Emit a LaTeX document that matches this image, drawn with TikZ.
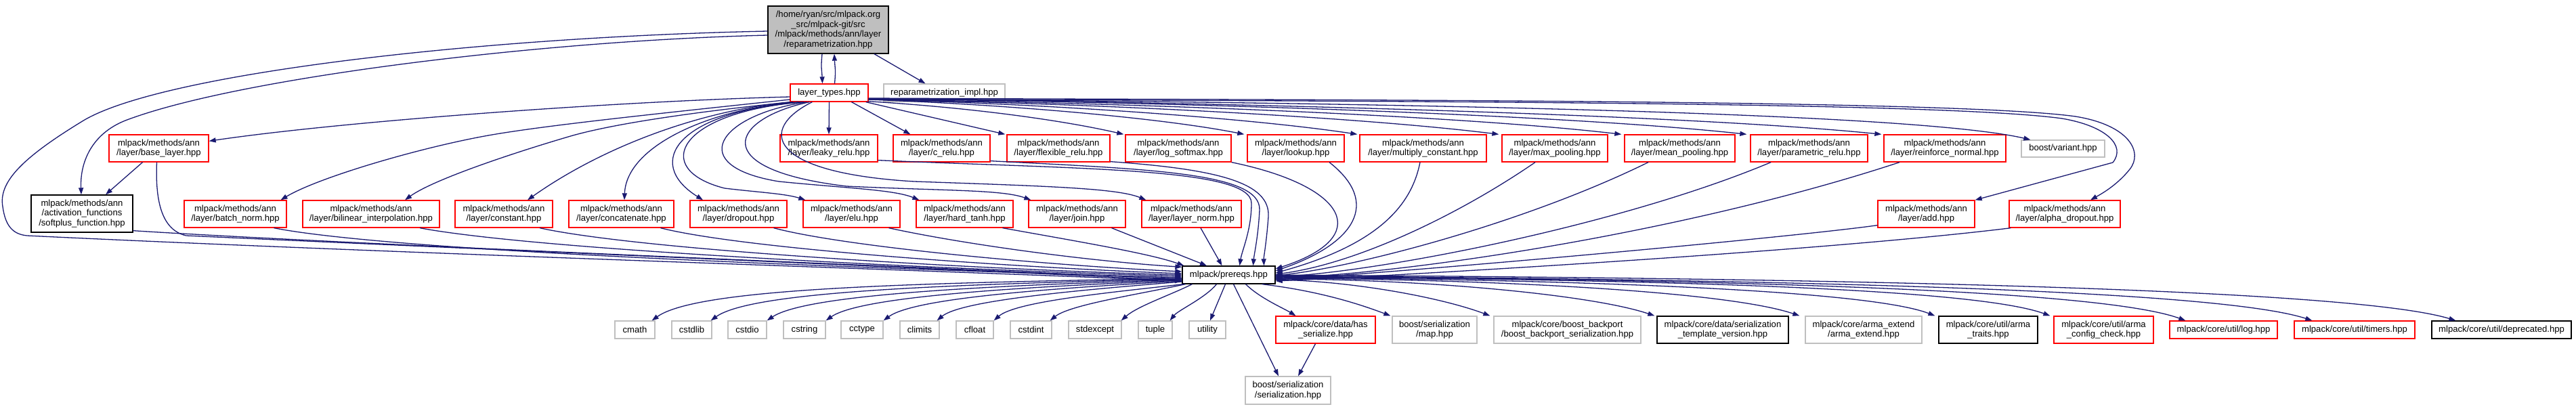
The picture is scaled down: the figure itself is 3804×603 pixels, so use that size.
\documentclass[tikz,border=0pt]{standalone}
\usepackage{fontspec}
\setmainfont{Liberation Sans}
\usetikzlibrary{arrows.meta,calc}
\definecolor{edgec}{HTML}{191970}
\definecolor{grayb}{HTML}{BFBFBF}
\newcommand\nodefont{\fontsize{13.1}{14.6}\selectfont}
\begin{document}
\begin{tikzpicture}[x=1pt,y=-1pt,
  nd/.style={rectangle, draw, fill=white, inner sep=0pt, align=center, line width=1.3pt, font=\nodefont, text=black},
  redbox/.style={nd, draw=red},
  blackbox/.style={nd, draw=black},
  graybox/.style={nd, draw=grayb},
  topbox/.style={nd, draw=black, fill=grayb},
  dep/.style={draw=edgec, line width=1.3pt, -{Triangle[length=10pt,width=7pt]}}]
\useasboundingbox (0,0) rectangle (3804,603);

% ---- nodes
\node[topbox, minimum width=178, minimum height=70] (top) at (1223,44) {/home/ryan/src/mlpack.org\\\_src/mlpack-git/src\\/mlpack/methods/ann/layer\\/reparametrization.hpp};
\node[redbox, minimum width=115, minimum height=26] (lt) at (1224.5,137) {layer\_types.hpp};
\node[graybox, minimum width=179, minimum height=26] (rimpl) at (1394.5,137) {reparametrization\_impl.hpp};

\node[redbox, minimum width=147, minimum height=40] (bl) at (234.5,219) {mlpack/methods/ann\\/layer/base\_layer.hpp};
\node[redbox, minimum width=144, minimum height=40] (leaky) at (1224,219) {mlpack/methods/ann\\/layer/leaky\_relu.hpp};
\node[redbox, minimum width=143, minimum height=40] (crelu) at (1390.5,219) {mlpack/methods/ann\\/layer/c\_relu.hpp};
\node[redbox, minimum width=152, minimum height=40] (flex) at (1563,219) {mlpack/methods/ann\\/layer/flexible\_relu.hpp};
\node[redbox, minimum width=156, minimum height=40] (logsm) at (1740,219) {mlpack/methods/ann\\/layer/log\_softmax.hpp};
\node[redbox, minimum width=143, minimum height=40] (lookup) at (1913.5,219) {mlpack/methods/ann\\/layer/lookup.hpp};
\node[redbox, minimum width=187, minimum height=40] (mulc) at (2101.5,219) {mlpack/methods/ann\\/layer/multiply\_constant.hpp};
\node[redbox, minimum width=156, minimum height=40] (maxp) at (2296,219) {mlpack/methods/ann\\/layer/max\_pooling.hpp};
\node[redbox, minimum width=163, minimum height=40] (meanp) at (2480.5,219) {mlpack/methods/ann\\/layer/mean\_pooling.hpp};
\node[redbox, minimum width=173, minimum height=40] (prelu) at (2671.5,219) {mlpack/methods/ann\\/layer/parametric\_relu.hpp};
\node[redbox, minimum width=180, minimum height=40] (reinf) at (2872,219) {mlpack/methods/ann\\/layer/reinforce\_normal.hpp};
\node[graybox, minimum width=123, minimum height=25] (variant) at (3046.5,219.5) {boost/variant.hpp};

\node[blackbox, minimum width=150, minimum height=55] (soft) at (121,315.5) {mlpack/methods/ann\\/activation\_functions\\/softplus\_function.hpp};
\node[redbox, minimum width=151, minimum height=40] (bn) at (347.5,316) {mlpack/methods/ann\\/layer/batch\_norm.hpp};
\node[redbox, minimum width=202, minimum height=40] (bil) at (548,316) {mlpack/methods/ann\\/layer/bilinear\_interpolation.hpp};
\node[redbox, minimum width=144, minimum height=40] (cnst) at (744,316) {mlpack/methods/ann\\/layer/constant.hpp};
\node[redbox, minimum width=155, minimum height=40] (concat) at (917.5,316) {mlpack/methods/ann\\/layer/concatenate.hpp};
\node[redbox, minimum width=143, minimum height=40] (drop) at (1090.5,316) {mlpack/methods/ann\\/layer/dropout.hpp};
\node[redbox, minimum width=143, minimum height=40] (elu) at (1257.5,316) {mlpack/methods/ann\\/layer/elu.hpp};
\node[redbox, minimum width=143, minimum height=40] (htanh) at (1424.5,316) {mlpack/methods/ann\\/layer/hard\_tanh.hpp};
\node[redbox, minimum width=143, minimum height=40] (join) at (1590.5,316) {mlpack/methods/ann\\/layer/join.hpp};
\node[redbox, minimum width=147, minimum height=40] (lnorm) at (1759.5,316) {mlpack/methods/ann\\/layer/layer\_norm.hpp};
\node[redbox, minimum width=143, minimum height=40] (add) at (2844.5,316) {mlpack/methods/ann\\/layer/add.hpp};
\node[redbox, minimum width=164, minimum height=40] (adrop) at (3049,316) {mlpack/methods/ann\\/layer/alpha\_dropout.hpp};

\node[blackbox, minimum width=137, minimum height=26] (pre) at (1814.5,406) {mlpack/prereqs.hpp};

\node[graybox, minimum width=59, minimum height=26] (cmath) at (937.5,487) {cmath};
\node[graybox, minimum width=59, minimum height=26] (cstdlib) at (1021.5,487) {cstdlib};
\node[graybox, minimum width=57, minimum height=26] (cstdio) at (1103.5,487) {cstdio};
\node[graybox, minimum width=62, minimum height=26] (cstring) at (1188,487) {cstring};
\node[graybox, minimum width=62, minimum height=26] (cctype) at (1273,487) {cctype};
\node[graybox, minimum width=58, minimum height=26] (climits) at (1358,487) {climits};
\node[graybox, minimum width=55, minimum height=26] (cfloat) at (1439.5,487) {cfloat};
\node[graybox, minimum width=61, minimum height=26] (cstdint) at (1522.5,487) {cstdint};
\node[graybox, minimum width=78, minimum height=26] (stdexc) at (1617,487) {stdexcept};
\node[graybox, minimum width=50, minimum height=26] (tuple) at (1706,487) {tuple};
\node[graybox, minimum width=54, minimum height=26] (utility) at (1783,487) {utility};
\node[redbox, minimum width=147, minimum height=40] (hasser) at (1957.5,487) {mlpack/core/data/has\\\_serialize.hpp};
\node[graybox, minimum width=125, minimum height=40] (map) at (2118.5,487) {boost/serialization\\/map.hpp};
\node[graybox, minimum width=217, minimum height=40] (backport) at (2314.5,487) {mlpack/core/boost\_backport\\/boost\_backport\_serialization.hpp};
\node[blackbox, minimum width=194, minimum height=40] (tmplv) at (2544,487) {mlpack/core/data/serialization\\\_template\_version.hpp};
\node[graybox, minimum width=172, minimum height=40] (armaext) at (2752,487) {mlpack/core/arma\_extend\\/arma\_extend.hpp};
\node[blackbox, minimum width=146, minimum height=40] (armatr) at (2936,487) {mlpack/core/util/arma\\\_traits.hpp};
\node[redbox, minimum width=147, minimum height=40] (armacfg) at (3106.5,487) {mlpack/core/util/arma\\\_config\_check.hpp};
\node[redbox, minimum width=159, minimum height=26] (log) at (3283.5,487) {mlpack/core/util/log.hpp};
\node[redbox, minimum width=178, minimum height=26] (timers) at (3477,487) {mlpack/core/util/timers.hpp};
\node[blackbox, minimum width=206, minimum height=26] (depr) at (3694,487) {mlpack/core/util/deprecated.hpp};
\node[graybox, minimum width=126, minimum height=41] (ser) at (1902,576.5) {boost/serialization\\/serialization.hpp};

% ---- edges from the top file
\draw[dep] ($(top.south)+(-9,0)$) .. controls ($(top.south)+(-11,22)$) and ($(lt.north)+(-11,-22)$) .. ($(lt.north)+(-10,0)$);
\draw[dep] ($(lt.north)+(8,0)$) .. controls ($(lt.north)+(10,-22)$) and ($(top.south)+(10,22)$) .. ($(top.south)+(9,0)$);
\draw[dep] ($(top.south)+(68,0)$) -- ($(rimpl.north)+(-28,0)$);
\draw[dep] ($(top.west)+(0,8)$) .. controls (800,60) and (350,115) .. (185,178) .. controls (135,198) and (118,240) .. ($(soft.north)+(-1,0)$);
\draw[dep] ($(top.west)+(0,2)$) .. controls (700,55) and (230,110) .. (120,180) .. controls (30,235) and (-2,270) .. (4,305) .. controls (8,335) and (20,346) .. (40,348) .. controls (600,375) and (1350,398) .. ($(pre.west)+(0,9)$);

% ---- layer_types to its layers
\draw[dep] ($(lt.west)+(0,6)$) .. controls (900,150) and (500,180) .. ($(bl.north east)+(0,10)$);
\draw[dep] (lt.south) -- (leaky.north);
\draw[dep] ($(lt.south)+(33,0)$) -- ($(crelu.north west)+(26,0)$);
\draw[dep] ($(lt.south east)+(-4,0)$) -- ($(flex.north west)+(-2,0)$);
\draw[dep] ($(lt.south east)+(-1,-1)$) .. controls (1450,160) and (1580,180) .. ($(logsm.north west)+(-2,0)$);
\draw[dep] ($(lt.east)+(0,10)$) .. controls (1500,155) and (1720,175) .. ($(lookup.north west)+(-4,0)$);
\draw[dep] ($(lt.east)+(0,10)$) .. controls (1550,153) and (1850,175) .. ($(mulc.north west)+(-3,0)$);
\draw[dep] ($(lt.east)+(0,10)$) .. controls (1600,152) and (2000,172) .. ($(maxp.north west)+(-4,0)$);
\draw[dep] ($(lt.east)+(0,10)$) .. controls (1650,151) and (2150,170) .. ($(meanp.north west)+(-4,0)$);
\draw[dep] ($(lt.east)+(0,9)$) .. controls (1700,150) and (2300,168) .. ($(prelu.north west)+(-5,0)$);
\draw[dep] ($(lt.east)+(0,9)$) .. controls (1750,150) and (2480,168) .. ($(reinf.north west)+(-3,0)$);
\draw[dep] ($(lt.east)+(0,9)$) .. controls (1800,150) and (2800,160) .. ($(variant.north west)+(14,0)$);
\draw[dep] ($(lt.east)+(0,9)$) .. controls (1900,150) and (2850,148) .. (3045,175) .. controls (3110,186) and (3140,215) .. (3120,240) -- (add.north east);
\draw[dep] ($(lt.east)+(0,8)$) .. controls (1900,148) and (2880,146) .. (3065,172) .. controls (3145,185) and (3165,225) .. (3145,250) .. controls (3125,275) and (3100,288) .. ($(adrop.north)+(38,0)$);

\draw[dep] ($(lt.west)+(0,10)$) .. controls (950,170) and (800,186) .. (721,200) .. controls (620,218) and (470,262) .. ($(bn.north)+(67,0)$);
\draw[dep] ($(lt.south west)+(1,0)$) .. controls (1000,168) and (900,185) .. (846,200) .. controls (760,225) and (640,265) .. ($(bil.north)+(50,0)$);
\draw[dep] ($(lt.south west)+(5,0)$) .. controls (1050,160) and (900,210) .. ($(cnst.north)+(35,0)$);
\draw[dep] ($(lt.south west)+(13,0)$) .. controls (1050,160) and (925,215) .. ($(concat.north)+(4.5,0)$);
\draw[dep] ($(lt.south west)+(18,0)$) .. controls (1000,165) and (950,240) .. ($(drop.north)+(-52.5,0)$);
\draw[dep] ($(lt.south west)+(21,0)$) .. controls (1000,165) and (960,250) .. (1070,278) .. controls (1120,284) and (1160,286) .. ($(elu.north west)+(4,0)$);
\draw[dep] ($(lt.south west)+(25,0)$) .. controls (1060,170) and (1010,245) .. (1150,268) .. controls (1250,278) and (1320,280) .. ($(htanh.north west)+(5,0)$);
\draw[dep] ($(lt.south west)+(29,0)$) .. controls (1080,175) and (1040,250) .. (1250,275) .. controls (1400,282) and (1480,280) .. ($(join.north west)+(4,0)$);
\draw[dep] ($(lt.south west)+(33,0)$) .. controls (1120,190) and (1130,255) .. (1350,268) .. controls (1550,275) and (1650,278) .. ($(lnorm.north west)+(7,0)$);

% ---- everything into prereqs
\draw[dep] ($(bl.south)+(-24,0)$) -- ($(soft.north)+(35,0)$);
\draw[dep] ($(bl.south)+(-3,0)$) .. controls (229,300) and (240,340) .. (275,348) .. controls (800,372) and (1350,395) .. ($(pre.west)+(0,8)$);
\draw[dep] ($(soft.south east)+(0,-3)$) .. controls (500,360) and (1300,392) .. ($(pre.west)+(0,6)$);
\draw[dep] ($(bn.south)+(57,0)$) .. controls (600,375) and (1400,400) .. ($(pre.west)+(0,4)$);
\draw[dep] ($(bil.south)+(72,0)$) .. controls (800,370) and (1400,398) .. ($(pre.west)+(0,2)$);
\draw[dep] ($(cnst.south)+(53,0)$) .. controls (950,370) and (1450,398) .. ($(pre.west)+(0,0)$);
\draw[dep] ($(concat.south)+(58,0)$) .. controls (1100,368) and (1500,395) .. ($(pre.west)+(0,-2)$);
\draw[dep] ($(drop.south)+(52,0)$) .. controls (1250,365) and (1550,392) .. ($(pre.west)+(0,-5)$);
\draw[dep] ($(elu.south)+(55,0)$) .. controls (1420,360) and (1600,385) .. ($(pre.north west)+(0,2)$);
\draw[dep] ($(htanh.south)+(56,0)$) .. controls (1600,358) and (1700,375) .. ($(pre.north west)+(3,0)$);
\draw[dep] ($(join.south)+(51,0)$) -- ($(pre.north)+(-32.5,0)$);
\draw[dep] ($(lnorm.south)+(13.5,0)$) -- ($(pre.north)+(-10,0)$);

\draw[dep] ($(leaky.south east)+(0,-3)$) .. controls (1600,250) and (1848,248) .. (1848,300) .. controls (1848,340) and (1834,370) .. ($(pre.north)+(16,0)$);
\draw[dep] ($(crelu.south east)+(0,-2)$) .. controls (1700,250) and (1862,255) .. (1860,310) .. controls (1858,350) and (1852,375) .. ($(pre.north)+(36,0)$);
\draw[dep] ($(flex.south east)+(0,-1)$) .. controls (1800,250) and (1876,270) .. (1873,320) .. controls (1870,360) and (1866,380) .. ($(pre.north)+(52,0)$);
\draw[dep] (logsm.south east) .. controls (1990,275) and (2030,350) .. ($(pre.east)+(0,-9)$);
\draw[dep] ($(lookup.south)+(49.5,0)$) .. controls (2040,300) and (2000,360) .. ($(pre.east)+(0,-6)$);
\draw[dep] ($(mulc.south)+(-4.5,0)$) .. controls (2085,300) and (2040,360) .. ($(pre.east)+(0,-3)$);
\draw[dep] ($(maxp.south)+(-29,0)$) .. controls (2150,320) and (2000,390) .. ($(pre.east)+(0,-1)$);
\draw[dep] ($(meanp.south)+(-46.5,0)$) .. controls (2250,330) and (2000,395) .. ($(pre.east)+(0,1)$);
\draw[dep] ($(prelu.south)+(-56.5,0)$) .. controls (2400,330) and (2050,400) .. ($(pre.east)+(0,3)$);
\draw[dep] ($(reinf.south)+(-67,0)$) .. controls (2500,340) and (2100,402) .. ($(pre.east)+(0,5)$);
\draw[dep] ($(add.south west)+(0,-4)$) .. controls (2650,350) and (2100,400) .. ($(pre.east)+(0,7)$);
\draw[dep] ($(adrop.south west)+(3,0)$) .. controls (2700,370) and (2100,405) .. ($(pre.east)+(0,9)$);

% ---- prereqs to its includes
\draw[dep] ($(pre.west)+(0,5)$) .. controls (1350,418) and (1030,425) .. ($(cmath.north east)+(-5,0)$);
\draw[dep] ($(pre.west)+(0,6)$) .. controls (1400,420) and (1110,430) .. ($(cstdlib.north east)+(-2,0)$);
\draw[dep] ($(pre.west)+(0,7)$) .. controls (1450,422) and (1190,435) .. (cstdio.north east);
\draw[dep] ($(pre.west)+(0,8)$) .. controls (1500,424) and (1270,438) .. (cstring.north east);
\draw[dep] ($(pre.west)+(0,9)$) .. controls (1550,426) and (1350,440) .. (cctype.north east);
\draw[dep] ($(pre.west)+(0,10)$) .. controls (1600,428) and (1420,443) .. ($(climits.north east)+(-4,0)$);
\draw[dep] ($(pre.south west)+(2,0)$) .. controls (1640,432) and (1500,445) .. (cfloat.north east);
\draw[dep] ($(pre.south west)+(5,0)$) .. controls (1680,435) and (1580,450) .. ($(cstdint.north east)+(-3,0)$);
\draw[dep] ($(pre.south west)+(15,0)$) .. controls (1730,435) and (1680,452) .. ($(stdexc.north east)+(-1,0)$);
\draw[dep] ($(pre.south)+(-18,0)$) .. controls (1780,440) and (1740,458) .. ($(tuple.north east)+(-4,0)$);
\draw[dep] ($(pre.south)+(-5,0)$) -- ($(utility.north)+(4,0)$);
\draw[dep] ($(pre.south)+(7,0)$) -- ($(ser.north)+(-14,0)$);
\draw[dep] ($(pre.south)+(25,0)$) .. controls (1860,440) and (1895,455) .. ($(hasser.north)+(-44,0)$);
\draw[dep] ($(hasser.south)+(-15,0)$) -- ($(ser.north)+(15,0)$);
\draw[dep] ($(pre.south east)+(-20,0)$) .. controls (1950,430) and (2010,450) .. ($(map.north west)+(-2,0)$);
\draw[dep] ($(pre.east)+(0,7)$) .. controls (2000,415) and (2130,440) .. ($(backport.north west)+(-5,0)$);
\draw[dep] ($(pre.east)+(0,6)$) .. controls (2100,412) and (2350,435) .. ($(tmplv.north west)+(-3,0)$);
\draw[dep] ($(pre.east)+(0,5)$) .. controls (2200,412) and (2550,430) .. ($(armaext.north west)+(-8,0)$);
\draw[dep] ($(pre.east)+(0,4)$) .. controls (2250,412) and (2750,425) .. ($(armatr.north west)+(-5,0)$);
\draw[dep] ($(pre.east)+(0,3)$) .. controls (2300,412) and (2900,420) .. ($(armacfg.north west)+(-5,0)$);
\draw[dep] ($(pre.east)+(0,2)$) .. controls (2350,412) and (3080,420) .. ($(log.north west)+(24,0)$);
\draw[dep] ($(pre.east)+(0,1)$) .. controls (2400,412) and (3250,420) .. ($(timers.north west)+(27,0)$);
\draw[dep] (pre.east) .. controls (2500,410) and (3450,420) .. ($(depr.north west)+(36,0)$);
\end{tikzpicture}
\end{document}
